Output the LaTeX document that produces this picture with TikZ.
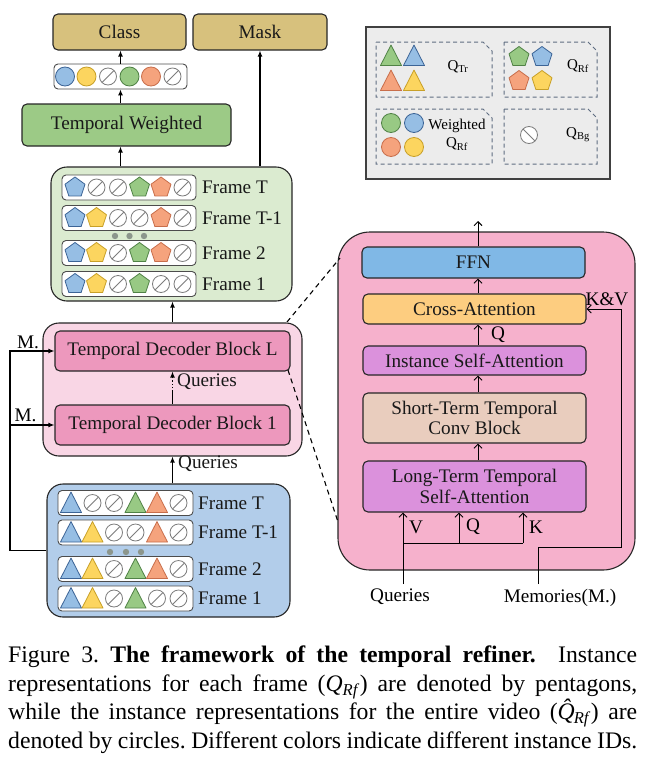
\documentclass[tikz,border=0pt]{standalone}
\usepackage{fontspec}
\setmainfont{Liberation Serif}
\usetikzlibrary{arrows.meta,shapes.geometric,calc}
\definecolor{tanc}{RGB}{215,193,125}
\definecolor{twc}{RGB}{156,202,134}
\definecolor{lgreen}{RGB}{219,235,208}
\definecolor{lpink}{RGB}{249,214,229}
\definecolor{blockc}{RGB}{237,152,189}
\definecolor{lblue}{RGB}{178,205,234}
\definecolor{leggray}{RGB}{236,236,236}
\definecolor{legd}{RGB}{95,110,130}
\definecolor{panelc}{RGB}{246,177,204}
\definecolor{ffnc}{RGB}{128,184,230}
\definecolor{crossc}{RGB}{253,205,128}
\definecolor{violc}{RGB}{219,145,220}
\definecolor{shortc}{RGB}{233,205,190}
\definecolor{bF}{RGB}{150,190,228}
\definecolor{bD}{RGB}{60,100,150}
\definecolor{yF}{RGB}{252,213,95}
\definecolor{yD}{RGB}{200,160,40}
\definecolor{gF}{RGB}{152,201,132}
\definecolor{gD}{RGB}{80,130,70}
\definecolor{oF}{RGB}{245,163,125}
\definecolor{oD}{RGB}{200,110,75}
\definecolor{nulc}{RGB}{125,125,125}
\definecolor{dotc}{RGB}{140,150,140}
\newcommand\fs{\fontsize{19.2}{21.5}\selectfont}
\newcommand\lfs{\fontsize{15}{16.5}\selectfont}
\newcommand\qrow[3]{%
  \foreach \t/\c [count=\i from 0] in {#3}{%
    \pgfmathsetmacro\xx{#2+21.5*\i}%
    \edef\tmp{\noexpand\pic at (\xx,#1) {\t=\c};}\tmp}}
\newcommand\dogbox[4]{\draw[legdash] (#1,#2) -- ({#3-9},#2) -- (#3,{#2+9}) -- (#3,#4) -- (#1,#4) -- cycle;}
\tikzset{
  shp/.style={fill=#1F, draw=#1D, line width=0.8pt, line join=round},
  pics/pent/.style={code={\draw[shp=#1] (-90:10.5) -- (-18:10.5) -- (54:10.5) -- (126:10.5) -- (198:10.5) -- cycle;}},
  pics/tri/.style={code={\draw[shp=#1] (0,-11) -- (10.5,9.5) -- (-10.5,9.5) -- cycle;}},
  pics/circ/.style={code={\draw[shp=#1] (0,0) circle[radius=9.5];}},
  pics/nul/.style={code={\draw[fill=white, draw=nulc, line width=0.8pt] (0,0) circle[radius=8.5]; \draw[nulc, line width=0.8pt] (-6,6) -- (6,-6);}},
  pics/nulb/.style={code={\draw[fill=white, draw=nulc, line width=0.8pt] (0,0) circle[radius=8.5]; \draw[nulc, line width=0.8pt] (-6,-6) -- (6,6);}},
  box/.style={draw=black!85, line width=1.1pt, rounded corners=5pt, inner sep=0pt, font=\fs, text=black!90},
  rowbox/.style={draw=black!70, line width=0.9pt, fill=white, rounded corners=4pt, inner sep=0pt, minimum height=25},
  lab/.style={font=\fs, inner sep=0pt, anchor=west, text=black!90},
  arr/.style={line width=1.3pt, -{Latex[length=6pt,width=5pt]}},
  rarr/.style={line width=1pt, -{Straight Barb[length=4pt,width=8pt]}},
  legdash/.style={draw=legd, line width=1pt, dash pattern=on 4pt off 3pt},
  zoomline/.style={line width=1.1pt, dash pattern=on 5pt off 4pt},
}
\begin{document}
\begin{tikzpicture}[x=1pt,y=-1pt]
\useasboundingbox (0,0) rectangle (653,763);

% ---------- top outputs ----------
\node[box, fill=tanc, minimum width=133, minimum height=36] (class) at (119.5,32) {Class};
\node[box, fill=tanc, minimum width=134, minimum height=36] (mask) at (260,32) {Mask};
\node[rowbox, minimum width=133] (crow) at (120.5,76.5) {};
\qrow{76.5}{65}{circ/b,circ/y,nul/x,circ/g,circ/o,nul/x}
\node[box, fill=twc, minimum width=209, minimum height=42] (tw) at (126.5,125) {Temporal Weighted};

% ---------- green frame box ----------
\node[box, fill=lgreen, rounded corners=16pt, minimum width=241, minimum height=134] (gbox) at (171.5,234) {};
\node[rowbox, minimum width=134] (g1) at (129,187.5) {};
\node[rowbox, minimum width=134] (g2) at (129,218) {};
\node[rowbox, minimum width=134] (g3) at (129,253) {};
\node[rowbox, minimum width=134] (g4) at (129,284) {};
\qrow{187.5}{75}{pent/b,nul/x,nul/x,pent/g,pent/o,nul/x}
\qrow{218}{75}{pent/b,pent/y,nul/x,nul/x,pent/o,nul/x}
\qrow{253}{75}{pent/b,pent/y,nul/x,pent/g,pent/o,nul/x}
\qrow{284}{75}{pent/b,pent/y,nul/x,pent/g,nul/x,nul/x}
\foreach \x in {115,129.5,144} \fill[dotc] (\x,236) circle[radius=3.2];
\node[lab] (gl1) at (202,187.5) {Frame T};
\node[lab] (gl2) at (202,218) {Frame T-1};
\node[lab] (gl3) at (202,253) {Frame 2};
\node[lab] (gl4) at (202,284) {Frame 1};

\draw[arr] (gbox.north -| crow.south) -- (tw.south -| crow.south);
\draw[arr] (tw.north -| crow.south) -- (crow.south);
\draw[arr] (crow.north) -- (class.south -| crow.north);
\draw[arr] (gbox.north -| mask.south) -- (mask.south);

% ---------- pink decoder box ----------
\node[box, fill=lpink, rounded corners=16pt, minimum width=259, minimum height=133] (pbox) at (172.5,389.5) {};
\node[box, fill=blockc, minimum width=235, minimum height=40] (bL) at (172.5,351) {Temporal Decoder Block L};
\node[box, fill=blockc, minimum width=235, minimum height=40] (b1) at (172.5,425) {Temporal Decoder Block 1};
\draw[arr] (pbox.north) -- (gbox.south -| pbox.north);
\coordinate (qm) at ($(b1.north)+(0,-13)$);
\draw[line width=1.3pt] (b1.north) -- (qm);
\draw[arr, dotted] (qm) -- (bL.south);
\node[lab] (ql1) at (177,382) {Queries};

% ---------- blue frame box ----------
\node[box, fill=lblue, rounded corners=16pt, minimum width=243, minimum height=133] (bbox) at (168.5,550.5) {};
\node[rowbox, minimum width=135] (r1) at (125.5,503) {};
\node[rowbox, minimum width=135] (r2) at (125.5,532.5) {};
\node[rowbox, minimum width=135] (r3) at (125.5,569) {};
\node[rowbox, minimum width=135] (r4) at (125.5,598.5) {};
\qrow{503}{71}{tri/b,nul/x,nul/x,tri/g,tri/o,nul/x}
\qrow{532.5}{71}{tri/b,tri/y,nul/x,nul/x,tri/o,nul/x}
\qrow{569}{71}{tri/b,tri/y,nul/x,tri/g,tri/o,nul/x}
\qrow{598.5}{71}{tri/b,tri/y,nul/x,tri/g,nul/x,nul/x}
\foreach \x in {110,126,141} \fill[dotc] (\x,552) circle[radius=3.2];
\node[lab] (bl1) at (198,503) {Frame T};
\node[lab] (bl2) at (198,532.5) {Frame T-1};
\node[lab] (bl3) at (198,569) {Frame 2};
\node[lab] (bl4) at (198,598.5) {Frame 1};

\draw[arr] (pbox.south |- bbox.north) -- (pbox.south);
\node[lab] (ql2) at (178,464) {Queries};

% ---------- memory feed ----------
\coordinate (mx) at (10,0);
\draw[arr] (bbox.west) -- (bbox.west -| mx) |- (bL.west);
\draw[arr] (mx |- b1.west) -- (b1.west);
\node[font=\fs, inner sep=0pt] (m1) at (28,342) {M.};
\node[font=\fs, inner sep=0pt] (m2) at (25.5,415) {M.};

% ---------- legend ----------
\node[draw=black!75, line width=1.8pt, fill=leggray, minimum width=244, minimum height=152, inner sep=0pt] (leg) at (488,103) {};
\dogbox{376}{42}{492}{97}
\dogbox{504}{42}{597}{97}
\dogbox{376}{109}{492}{164}
\dogbox{504}{109}{597}{164}
\pic at (391,56) {tri=g}; \pic at (414,56) {tri=b};
\pic at (391,81) {tri=o}; \pic at (414,81) {tri=y};
\node[font=\lfs, inner sep=0pt] (lq1) at (458,67) {Q\textsubscript{Tr}};
\pic at (519,57) {pent=g}; \pic at (542,57) {pent=b};
\pic at (519,81) {pent=o}; \pic at (542,81) {pent=y};
\node[font=\lfs, inner sep=0pt] (lq2) at (578,66) {Q\textsubscript{Rf}};
\pic at (391,123) {circ=g}; \pic at (414,123) {circ=b};
\pic at (391,147) {circ=o}; \pic at (414,147) {circ=y};
\node[font=\lfs, inner sep=0pt] (lw) at (457,126) {Weighted};
\node[font=\lfs, inner sep=0pt] (lq3) at (457,144) {Q\textsubscript{Rf}};
\pic at (529,135) {nulb=x};
\node[font=\lfs, inner sep=0pt] (lq4) at (578,135) {Q\textsubscript{Bg}};

% ---------- zoom lines ----------
\coordinate (za) at (287,322);
\coordinate (zb) at (340,258);
\coordinate (zc) at (288,370);
\coordinate (zd) at (338,522);

% ---------- right panel ----------
\node[box, fill=panelc, rounded corners=32pt, minimum width=297, minimum height=338] (panel) at (486.5,401) {};
\draw[zoomline] (za) -- (zb);
\draw[zoomline] (zc) -- (zd);
\node[box, fill=ffnc, minimum width=223, minimum height=31] (ffn) at (473.5,262.5) {FFN};
\node[box, fill=crossc, minimum width=223, minimum height=30] (cross) at (474.5,309) {Cross-Attention};
\node[box, fill=violc, minimum width=223, minimum height=29] (inst) at (474.5,360.5) {Instance Self-Attention};
\node[box, fill=shortc, minimum width=223, minimum height=50, align=center] (short) at (474.5,418) {Short-Term Temporal\\[-1pt]Conv Block};
\node[box, fill=violc, minimum width=223, minimum height=51, align=center] (long) at (474.5,486.5) {Long-Term Temporal\\[-1pt]Self-Attention};

\coordinate (ax) at (478,0);
\coordinate (topout) at (478,221);
\draw[rarr] (ax |- ffn.north) -- (topout);
\draw[rarr] (ax |- cross.north) -- (ax |- ffn.south);
\draw[rarr] (ax |- inst.north) -- (ax |- cross.south);
\draw[rarr] (ax |- short.north) -- (ax |- inst.south);
\draw[rarr] (ax |- long.north) -- (ax |- short.south);
\node[font=\fs, inner sep=0pt] (lq) at (498,335) {Q};

\coordinate (vx) at (403,584);
\coordinate (qx) at (459,543);
\coordinate (kx) at (523,543);
\draw[rarr] (vx) -- (vx |- long.south);
\draw[line width=1pt] (vx |- qx) -- (kx);
\draw[rarr] (qx) -- (qx |- long.south);
\draw[rarr] (kx) -- (kx |- long.south);
\node[font=\fs, inner sep=0pt] (lv) at (416,527) {V};
\node[font=\fs, inner sep=0pt] (lq5) at (473,527) {Q};
\node[font=\fs, inner sep=0pt] (lk) at (536,527) {K};
\node[font=\fs, inner sep=0pt] (qlab) at (400,597) {Queries};
\node[font=\fs, inner sep=0pt] (mlab) at (560,598) {Memories(M.)};

\coordinate (ms) at (538,584);
\coordinate (mc) at (621,547);
\draw[rarr] (ms) |- (mc) |- (cross.east);
\node[font=\fs, inner sep=0pt] (kv) at (607,299) {K\&V};

% ---------- caption ----------
\node[anchor=north west, inner sep=0pt] (cap) at (8,646) {\begin{minipage}{629pt}\fontsize{23.7}{28.5}\selectfont\frenchspacing
Figure 3. \textbf{The framework of the temporal refiner.}\ \ Instance\linebreak
representations for each frame (\textit{Q}\textsubscript{\textit{Rf}}) are denoted by pentagons,\linebreak
while the instance representations for the entire video (\textit{\^{Q}}\kern-0.42em\textsubscript{\textit{Rf}}) are\linebreak
denoted by circles. Different colors indicate different instance IDs.\parfillskip=0pt\par\end{minipage}};
\end{tikzpicture}
\end{document}
